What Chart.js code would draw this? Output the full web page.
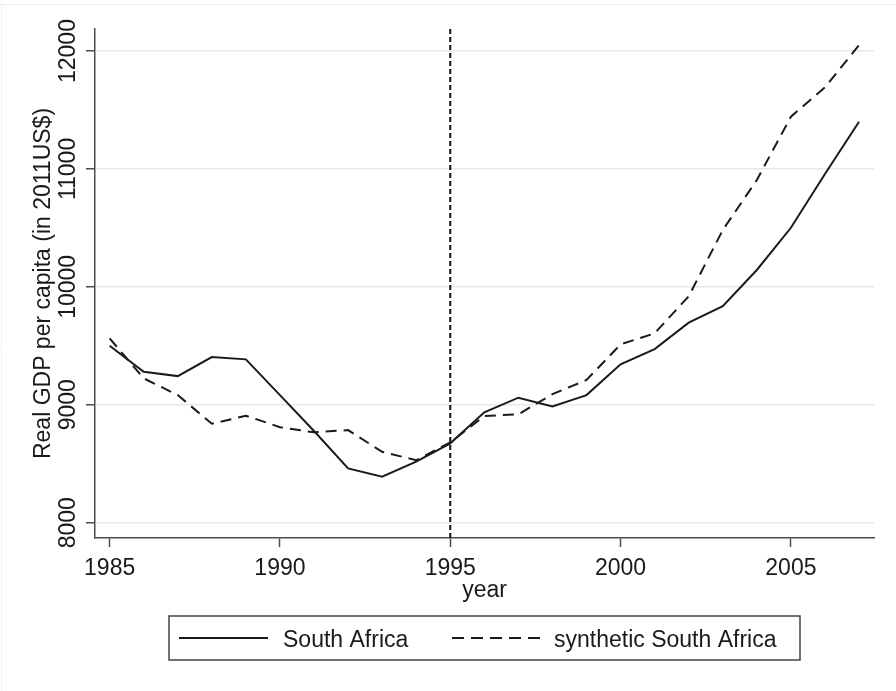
<!DOCTYPE html>
<html>
<head>
<meta charset="utf-8">
<title>Real GDP per capita: South Africa vs synthetic South Africa</title>
<script src="https://cdn.jsdelivr.net/npm/chart.js@4/dist/chart.umd.min.js"></script>
<style>
  html, body { margin: 0; padding: 0; background: #ffffff; }
  #wrap { width: 896px; height: 691px; position: relative; }
</style>
</head>
<body>
<div id="wrap"><canvas id="chart" width="896" height="691"></canvas></div>
<script>
// Years of observation
const years = [1985, 1986, 1987, 1988, 1989, 1990, 1991, 1992, 1993, 1994, 1995, 1996,
               1997, 1998, 1999, 2000, 2001, 2002, 2003, 2004, 2005, 2006, 2007];

// Real GDP per capita (2011 US$)
const southAfrica = [9500, 9280, 9243, 9405, 9385, 9082, 8777, 8460, 8390, 8517, 8673, 8936,
                     9060, 8986, 9082, 9343, 9472, 9696, 9837, 10143, 10501, 10957, 11400];
const syntheticSouthAfrica = [9563, 9224, 9082, 8839, 8907, 8810, 8766, 8785, 8601, 8530, 8680, 8904,
                              8919, 9090, 9210, 9512, 9606, 9920, 10482, 10906, 11443, 11692, 12051];

// Axis ticks and labels
const xTicks = [1985, 1990, 1995, 2000, 2005];
const yTicks = [8000, 9000, 10000, 11000, 12000];
const treatmentYear = 1995;
const seriesNames = ['South Africa', 'synthetic South Africa'];
const xTitle = 'year';
const yTitle = 'Real GDP per capita (in 2011US$)';

const FONT = '23px "Liberation Sans", Arial, sans-serif';
const INK = '#1a1a1a';
const AXIS = '#4d4d4d';

const toPoints = vals => years.map((y, i) => ({ x: y, y: vals[i] }));

// Draws the graph-region outline, tick labels, axis titles, the treatment-year marker and the legend box
const decorations = {
  id: 'decorations',
  beforeDraw(chart) {
    const { ctx } = chart;
    ctx.save();
    ctx.strokeStyle = '#f0f0f0';
    ctx.lineWidth = 1;
    ctx.beginPath();
    ctx.moveTo(0, 4.5); ctx.lineTo(896, 4.5);
    ctx.moveTo(1.5, 4); ctx.lineTo(1.5, 691);
    ctx.stroke();
    ctx.restore();
  },
  beforeDatasetsDraw(chart) {
    const { ctx, chartArea, scales } = chart;
    const x = scales.x.getPixelForValue(treatmentYear);
    ctx.save();
    ctx.strokeStyle = '#111';
    ctx.lineWidth = 2;
    ctx.setLineDash([5, 3]);
    ctx.beginPath();
    ctx.moveTo(x, chartArea.top);
    ctx.lineTo(x, chartArea.bottom);
    ctx.stroke();
    ctx.restore();
  },
  afterDraw(chart) {
    const { ctx, chartArea, scales } = chart;
    ctx.save();
    ctx.font = FONT;
    ctx.fillStyle = INK;

    // x tick labels
    ctx.textAlign = 'center';
    ctx.textBaseline = 'alphabetic';
    xTicks.forEach(v => ctx.fillText(String(v), scales.x.getPixelForValue(v), 574.5));

    // y tick labels, rotated
    yTicks.forEach(v => {
      ctx.save();
      ctx.translate(75, scales.y.getPixelForValue(v));
      ctx.rotate(-Math.PI / 2);
      ctx.textAlign = 'center';
      ctx.fillText(String(v), 0, 0);
      ctx.restore();
    });

    // axis titles
    ctx.textAlign = 'center';
    ctx.fillText(xTitle, (chartArea.left + chartArea.right) / 2, 597);
    ctx.save();
    ctx.translate(50, (chartArea.top + chartArea.bottom) / 2);
    ctx.rotate(-Math.PI / 2);
    ctx.fillText(yTitle, 0, 0);
    ctx.restore();

    // legend
    ctx.fillStyle = '#ffffff';
    ctx.fillRect(169, 616, 631, 44);
    ctx.strokeStyle = '#444';
    ctx.lineWidth = 1.5;
    ctx.strokeRect(169, 616, 631, 44);

    ctx.strokeStyle = INK;
    ctx.lineWidth = 2;
    ctx.beginPath();
    ctx.moveTo(179, 638); ctx.lineTo(268, 638);
    ctx.stroke();
    ctx.setLineDash([12, 7]);
    ctx.beginPath();
    ctx.moveTo(452, 638); ctx.lineTo(541, 638);
    ctx.stroke();
    ctx.setLineDash([]);

    ctx.fillStyle = INK;
    ctx.textAlign = 'left';
    ctx.fillText(seriesNames[0], 283, 646.5);
    ctx.fillText(seriesNames[1], 554, 646.5);
    ctx.restore();
  }
};

new Chart(document.getElementById('chart'), {
  type: 'line',
  data: {
    datasets: [
      {
        label: seriesNames[0],
        data: toPoints(southAfrica),
        borderColor: INK,
        borderWidth: 2,
        pointRadius: 0,
        tension: 0,
        fill: false
      },
      {
        label: seriesNames[1],
        data: toPoints(syntheticSouthAfrica),
        borderColor: INK,
        borderWidth: 2,
        borderDash: [11, 7],
        pointRadius: 0,
        tension: 0,
        fill: false
      }
    ]
  },
  options: {
    responsive: false,
    animation: false,
    devicePixelRatio: 1,
    layout: { padding: { top: 29, right: 22, left: 0, bottom: 0 } },
    plugins: {
      legend: { display: false },
      title: { display: false },
      tooltip: { enabled: false }
    },
    scales: {
      x: {
        type: 'linear',
        min: 1984.57,
        max: 2007.44,
        afterBuildTicks: s => { s.ticks = xTicks.map(v => ({ value: v })); },
        afterFit: s => { s.height = 153; },
        ticks: { display: false },
        grid: {
          drawOnChartArea: false,
          drawTicks: true,
          tickLength: 9,
          tickColor: AXIS,
          tickWidth: 1.5
        },
        border: { display: true, color: AXIS, width: 1.5 }
      },
      y: {
        type: 'linear',
        min: 7870,
        max: 12187,
        afterBuildTicks: s => { s.ticks = yTicks.map(v => ({ value: v })); },
        afterFit: s => { s.width = 95; },
        ticks: { display: false },
        grid: {
          color: '#e8e8e8',
          lineWidth: 1.5,
          drawTicks: true,
          tickLength: 9,
          tickColor: AXIS,
          tickWidth: 1.5
        },
        border: { display: true, color: AXIS, width: 1.5 }
      }
    }
  },
  plugins: [decorations]
});
</script>
</body>
</html>
